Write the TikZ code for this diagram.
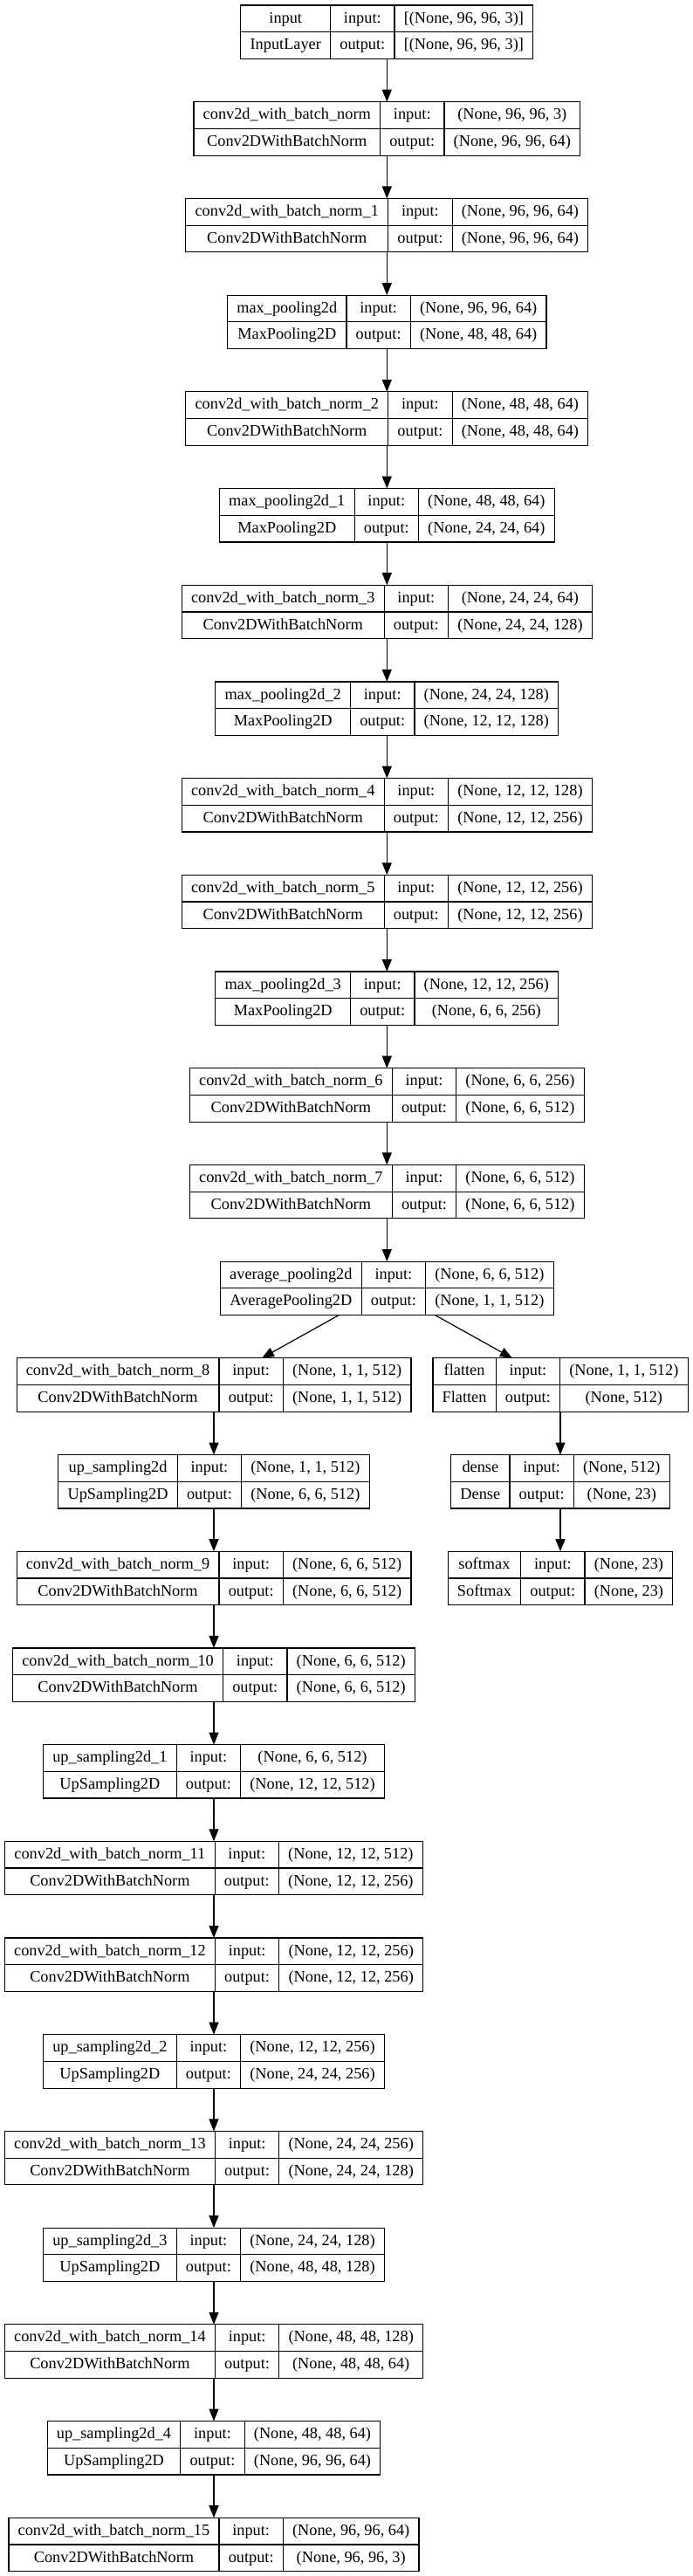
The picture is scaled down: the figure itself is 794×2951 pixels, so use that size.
\documentclass[tikz,border=0pt]{standalone}
\usepackage{fontspec}
\setmainfont{Liberation Serif}
\usetikzlibrary{arrows.meta}
\newlength\colA \newlength\colB \newlength\colC \newlength\tmpw \newlength\boxW
\newcommand\lfont{\fontsize{18.3}{22}\selectfont}
\newcommand\colwidth[3]{\settowidth{#1}{\lfont #2}\settowidth{\tmpw}{\lfont #3}\ifdim\tmpw>#1\relax #1=\tmpw\fi\addtolength{#1}{21.5pt}}
\tikzset{
 layerbox/.style={draw=black, line width=1.2pt, minimum height=61.4pt, inner sep=0pt, outer sep=0pt},
 cellline/.style={draw=black, line width=1.2pt},
 ctext/.style={font=\lfont, inner sep=0pt, text height=13.6pt, text depth=4pt, anchor=center},
 arr/.style={draw=black, line width=1.2pt, -{Triangle[length=14pt,width=11pt]}},
}
\newcommand\measurelayer[7]{%
 \colwidth{\colA}{#4}{#5}\colwidth{\colC}{#6}{#7}%
 \expandafter\xdef\csname wA@#1\endcsname{\the\colA}%
 \expandafter\xdef\csname wC@#1\endcsname{\the\colC}}
\newcommand\drawlayer[7]{%
 \colA=\csname wA@#1\endcsname\relax
 \colB=\wB\relax
 \colC=\csname wC@#1\endcsname\relax
 \boxW=\colA \advance\boxW by \colB \advance\boxW by \colC
 \pgfmathsetmacro\yT{6+110.7*#3}%
 \pgfmathsetmacro\yM{\yT+30.7}%
 \pgfmathsetmacro\yB{\yT+61.4}%
 \pgfmathsetmacro\rA{\yT+15.35}%
 \pgfmathsetmacro\rB{\yT+46.05}%
 \pgfmathsetmacro\xL{#2-0.5*\boxW}%
 \pgfmathsetmacro\xR{#2+0.5*\boxW}%
 \pgfmathsetmacro\xA{\xL+\colA}%
 \pgfmathsetmacro\xB{\xA+\colB}%
 \pgfmathsetmacro\cA{\xL+0.5*\colA}%
 \pgfmathsetmacro\cB{\xA+0.5*\colB}%
 \pgfmathsetmacro\cC{\xB+0.5*\colC}%
 \node[layerbox, minimum width=\boxW] (#1) at (#2,\yM) {};
 \draw[cellline] (\xL,\yM) -- (\xR,\yM) (\xA,\yT) -- (\xA,\yB) (\xB,\yT) -- (\xB,\yB);
 \node[ctext] at (\cA,\rA) {#4};
 \node[ctext] at (\cA,\rB) {#5};
 \node[ctext] at (\cB,\rA) {input:};
 \node[ctext] at (\cB,\rB) {output:};
 \node[ctext] at (\cC,\rA) {#6};
 \node[ctext] at (\cC,\rB) {#7};
}
\def\mx{443.3}
\def\lx{245}
\def\rx{642}
\def\cbn{conv2d\_with\_batch\_norm}
\def\CBN{Conv2DWithBatchNorm}
\newcommand\alllayers{%
\nnlayer{in}{\mx}{0}{input}{InputLayer}{[(None, 96, 96, 3)]}{[(None, 96, 96, 3)]}
\nnlayer{c0}{\mx}{1}{\cbn}{\CBN}{(None, 96, 96, 3)}{(None, 96, 96, 64)}
\nnlayer{c1}{\mx}{2}{\cbn\_1}{\CBN}{(None, 96, 96, 64)}{(None, 96, 96, 64)}
\nnlayer{mp0}{\mx}{3}{max\_pooling2d}{MaxPooling2D}{(None, 96, 96, 64)}{(None, 48, 48, 64)}
\nnlayer{c2}{\mx}{4}{\cbn\_2}{\CBN}{(None, 48, 48, 64)}{(None, 48, 48, 64)}
\nnlayer{mp1}{\mx}{5}{max\_pooling2d\_1}{MaxPooling2D}{(None, 48, 48, 64)}{(None, 24, 24, 64)}
\nnlayer{c3}{\mx}{6}{\cbn\_3}{\CBN}{(None, 24, 24, 64)}{(None, 24, 24, 128)}
\nnlayer{mp2}{\mx}{7}{max\_pooling2d\_2}{MaxPooling2D}{(None, 24, 24, 128)}{(None, 12, 12, 128)}
\nnlayer{c4}{\mx}{8}{\cbn\_4}{\CBN}{(None, 12, 12, 128)}{(None, 12, 12, 256)}
\nnlayer{c5}{\mx}{9}{\cbn\_5}{\CBN}{(None, 12, 12, 256)}{(None, 12, 12, 256)}
\nnlayer{mp3}{\mx}{10}{max\_pooling2d\_3}{MaxPooling2D}{(None, 12, 12, 256)}{(None, 6, 6, 256)}
\nnlayer{c6}{\mx}{11}{\cbn\_6}{\CBN}{(None, 6, 6, 256)}{(None, 6, 6, 512)}
\nnlayer{c7}{\mx}{12}{\cbn\_7}{\CBN}{(None, 6, 6, 512)}{(None, 6, 6, 512)}
\nnlayer{avg}{\mx}{13}{average\_pooling2d}{AveragePooling2D}{(None, 6, 6, 512)}{(None, 1, 1, 512)}
\nnlayer{c8}{\lx}{14}{\cbn\_8}{\CBN}{(None, 1, 1, 512)}{(None, 1, 1, 512)}
\nnlayer{fl}{\rx}{14}{flatten}{Flatten}{(None, 1, 1, 512)}{(None, 512)}
\nnlayer{up0}{\lx}{15}{up\_sampling2d}{UpSampling2D}{(None, 1, 1, 512)}{(None, 6, 6, 512)}
\nnlayer{de}{\rx}{15}{dense}{Dense}{(None, 512)}{(None, 23)}
\nnlayer{c9}{\lx}{16}{\cbn\_9}{\CBN}{(None, 6, 6, 512)}{(None, 6, 6, 512)}
\nnlayer{sm}{\rx}{16}{softmax}{Softmax}{(None, 23)}{(None, 23)}
\nnlayer{c10}{\lx}{17}{\cbn\_10}{\CBN}{(None, 6, 6, 512)}{(None, 6, 6, 512)}
\nnlayer{up1}{\lx}{18}{up\_sampling2d\_1}{UpSampling2D}{(None, 6, 6, 512)}{(None, 12, 12, 512)}
\nnlayer{c11}{\lx}{19}{\cbn\_11}{\CBN}{(None, 12, 12, 512)}{(None, 12, 12, 256)}
\nnlayer{c12}{\lx}{20}{\cbn\_12}{\CBN}{(None, 12, 12, 256)}{(None, 12, 12, 256)}
\nnlayer{up2}{\lx}{21}{up\_sampling2d\_2}{UpSampling2D}{(None, 12, 12, 256)}{(None, 24, 24, 256)}
\nnlayer{c13}{\lx}{22}{\cbn\_13}{\CBN}{(None, 24, 24, 256)}{(None, 24, 24, 128)}
\nnlayer{up3}{\lx}{23}{up\_sampling2d\_3}{UpSampling2D}{(None, 24, 24, 128)}{(None, 48, 48, 128)}
\nnlayer{c14}{\lx}{24}{\cbn\_14}{\CBN}{(None, 48, 48, 128)}{(None, 48, 48, 64)}
\nnlayer{up4}{\lx}{25}{up\_sampling2d\_4}{UpSampling2D}{(None, 48, 48, 64)}{(None, 96, 96, 64)}
\nnlayer{c15}{\lx}{26}{\cbn\_15}{\CBN}{(None, 96, 96, 64)}{(None, 96, 96, 3)}%
}
\begin{document}
\colwidth{\colB}{input:}{output:}\xdef\wB{\the\colB}%
\let\nnlayer\measurelayer
\alllayers
\let\nnlayer\drawlayer
\begin{tikzpicture}[x=1pt, y=-1pt]
\fill[white] (0,0) rectangle (794,2951);
\useasboundingbox (0,0) rectangle (794,2951);
\alllayers
\foreach \a/\b in {in/c0,c0/c1,c1/mp0,mp0/c2,c2/mp1,mp1/c3,c3/mp2,mp2/c4,c4/c5,c5/mp3,mp3/c6,c6/c7,c7/avg,
  avg/c8,avg/fl,c8/up0,up0/c9,c9/c10,c10/up1,up1/c11,c11/c12,c12/up2,up2/c13,c13/up3,up3/c14,c14/up4,up4/c15,
  fl/de,de/sm}
  \draw[arr] (\a) -- (\b);
\end{tikzpicture}
\end{document}
